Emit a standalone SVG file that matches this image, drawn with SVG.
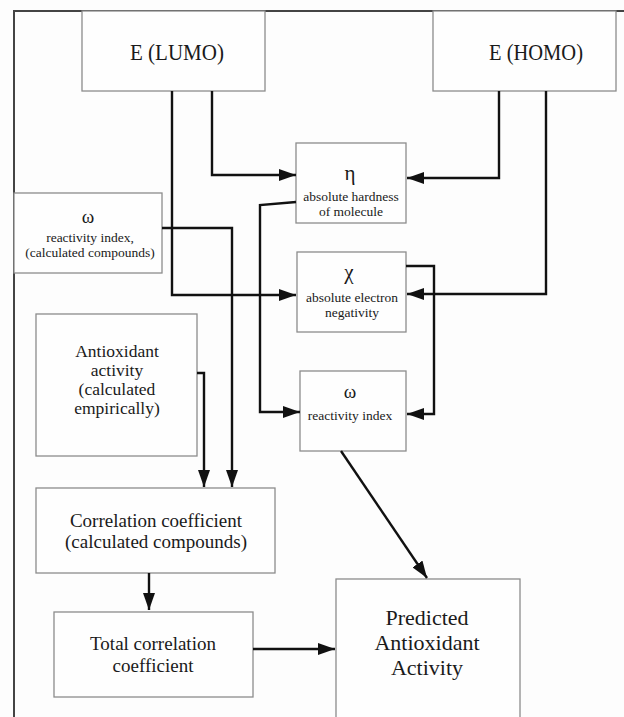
<svg xmlns="http://www.w3.org/2000/svg" width="624" height="717" viewBox="0 0 624 717">
<style>
.box{fill:#fefefe;stroke:#8c8c8c;stroke-width:1.3}
.t{font-family:'Liberation Serif','DejaVu Serif',serif;fill:#1a1a1a;text-anchor:middle}
.c{fill:none;stroke:#111;stroke-width:2.4}
</style>
<defs>
<marker id="ah" markerUnits="userSpaceOnUse" markerWidth="18" markerHeight="12" refX="17" refY="6" orient="auto">
<path d="M0,0 L17,6 L0,12 Z" fill="#111"/>
</marker>
</defs>
<rect width="624" height="717" fill="#fdfdfd"/>
<path d="M14,717 V11 H624" fill="none" stroke="#444" stroke-width="2"/>

<g id="lumo">
<rect class="box" x="82" y="11" width="183" height="80"/>
<text class="t" font-family="Liberation Serif, DejaVu Serif, serif" x="177" y="60" font-size="24" textLength="94" lengthAdjust="spacingAndGlyphs">E (LUMO)</text>
</g>
<g id="homo">
<rect class="box" x="433" y="11" width="183" height="80"/>
<text class="t" font-family="Liberation Serif, DejaVu Serif, serif" x="536" y="60" font-size="24" textLength="94" lengthAdjust="spacingAndGlyphs">E (HOMO)</text>
</g>
<g id="eta" font-family="Liberation Serif, DejaVu Serif, serif">
<rect class="box" x="296" y="143" width="110" height="80"/>
<text class="t" x="350" y="180" font-size="21">η</text>
<text class="t" x="351" y="201" font-size="13.5">absolute hardness</text>
<text class="t" x="351" y="216" font-size="13.5">of molecule</text>
</g>
<g id="chi" font-family="Liberation Serif, DejaVu Serif, serif">
<rect class="box" x="297" y="252" width="109" height="80"/>
<text class="t" x="349" y="279" font-size="21">χ</text>
<text class="t" x="352" y="302" font-size="13.5">absolute electron</text>
<text class="t" x="352" y="317" font-size="13.5">negativity</text>
</g>
<g id="omega" font-family="Liberation Serif, DejaVu Serif, serif">
<rect class="box" x="300" y="371" width="106" height="80"/>
<text class="t" x="350" y="398" font-size="19">ω</text>
<text class="t" x="350" y="420" font-size="13.5">reactivity index</text>
</g>
<g id="omega-calc" font-family="Liberation Serif, DejaVu Serif, serif">
<rect class="box" x="14" y="193" width="148" height="80"/>
<text class="t" x="88" y="223" font-size="19">ω</text>
<text class="t" x="90" y="242" font-size="13.5">reactivity index,</text>
<text class="t" x="90" y="257" font-size="13.5">(calculated compounds)</text>
</g>
<g id="antioxidant" font-family="Liberation Serif, DejaVu Serif, serif">
<rect class="box" x="36" y="314" width="161" height="142"/>
<text class="t" x="117" y="357" font-size="17.5">Antioxidant</text>
<text class="t" x="117" y="376" font-size="17.5">activity</text>
<text class="t" x="117" y="395" font-size="17.5">(calculated</text>
<text class="t" x="117" y="414" font-size="17.5">empirically)</text>
</g>
<g id="correlation" font-family="Liberation Serif, DejaVu Serif, serif">
<rect class="box" x="36" y="488" width="239" height="85"/>
<text class="t" x="156" y="527" font-size="19">Correlation coefficient</text>
<text class="t" x="156" y="548" font-size="19">(calculated compounds)</text>
</g>
<g id="total" font-family="Liberation Serif, DejaVu Serif, serif">
<rect class="box" x="54" y="612" width="199" height="85"/>
<text class="t" x="153" y="650" font-size="19">Total correlation</text>
<text class="t" x="153" y="672" font-size="19">coefficient</text>
</g>
<g id="predicted" font-family="Liberation Serif, DejaVu Serif, serif">
<rect class="box" x="336" y="579" width="184" height="145"/>
<text class="t" x="427" y="625" font-size="22">Predicted</text>
<text class="t" x="427" y="650" font-size="22">Antioxidant</text>
<text class="t" x="427" y="675" font-size="22">Activity</text>
</g>

<g id="connectors">
<path class="c" d="M172,91 V295 H296" marker-end="url(#ah)"/>
<path class="c" d="M212,91 V175 H296" marker-end="url(#ah)"/>
<path class="c" d="M499,91 V178 H407" marker-end="url(#ah)"/>
<path class="c" d="M546,91 V294 H407" marker-end="url(#ah)"/>
<path class="c" d="M296,202 L260,205 V412 H300" marker-end="url(#ah)"/>
<path class="c" d="M406,266 H434 V414 H407" marker-end="url(#ah)"/>
<path class="c" d="M162,228 H232 V487" marker-end="url(#ah)"/>
<path class="c" d="M197,373 H204 V487" marker-end="url(#ah)"/>
<path class="c" d="M149,573 V610" marker-end="url(#ah)"/>
<path class="c" d="M253,649 H335" marker-end="url(#ah)"/>
<path class="c" d="M341,451 L427,578" marker-end="url(#ah)"/>
</g>
</svg>
